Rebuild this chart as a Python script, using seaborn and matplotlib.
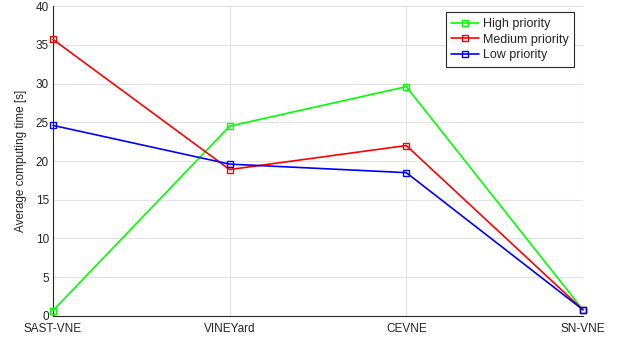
import matplotlib
matplotlib.use("Agg")
import matplotlib.pyplot as plt
import seaborn as sns
import pandas as pd

algorithms = ["SAST-VNE", "VINEYard", "CEVNE", "SN-VNE"]
high_priority = [0.7, 24.5, 29.6, 0.8]
medium_priority = [35.7, 18.9, 22.0, 0.8]
low_priority = [24.6, 19.6, 18.5, 0.8]
series_names = ["High priority", "Medium priority", "Low priority"]
colors = ["#00ff00", "#ff0000", "#0000ff"]

rows = []
for name, vals in zip(series_names, [high_priority, medium_priority, low_priority]):
    for i, (alg, v) in enumerate(zip(algorithms, vals)):
        rows.append({"pos": i, "algorithm": alg, "time": v, "series": name})
df = pd.DataFrame(rows)

sns.set_style("white")
plt.rcParams["font.family"] = ["Liberation Sans", "DejaVu Sans"]

fig = plt.figure(figsize=(6.22, 3.39), dpi=100)
ax = fig.add_axes([0.0852, 0.068, 0.852, 0.914])

sns.lineplot(data=df, x="pos", y="time", hue="series", hue_order=series_names,
             palette=colors, marker="s", markersize=5, markerfacecolor="none",
             markeredgewidth=1.0, linewidth=1.2, ax=ax, legend=True)
for line, c in zip(ax.lines, colors):
    line.set_markeredgecolor(c)
    line.set_clip_on(False)
    line.set_zorder(3)

ax.set_xlim(0, 3)
ax.set_ylim(0, 40)
ax.set_xticks(range(len(algorithms)))
ax.set_xticklabels(algorithms)
ax.set_yticks(range(0, 41, 5))
ax.set_xlabel("")
ax.set_ylabel("Average computing time [s]", fontsize=8.5, color="#262626",
              labelpad=6)
ax.tick_params(axis="both", direction="in", length=4, labelsize=8.5,
               colors="#262626")
ax.tick_params(axis="x", pad=5)
ax.tick_params(axis="y", pad=3)
ax.grid(True, color="#e3e3e3", linewidth=0.8)
ax.set_axisbelow(True)
for side in ["top", "right"]:
    ax.spines[side].set_visible(False)
for side in ["left", "bottom"]:
    ax.spines[side].set_color("#262626")
    ax.spines[side].set_linewidth(0.8)

handles, labels = ax.get_legend_handles_labels()
for h, c in zip(handles, colors):
    h.set_marker("s")
    h.set_markerfacecolor("none")
    h.set_markeredgecolor(c)
    h.set_markersize(5)
leg = ax.legend(handles, labels, loc="upper right", bbox_to_anchor=(0.995, 1.0),
                fontsize=9, frameon=True, fancybox=False, framealpha=1,
                edgecolor="#262626", handlelength=2.2, borderpad=0.45,
                labelspacing=0.3, handletextpad=0.3)
leg.get_frame().set_linewidth(0.8)
leg.set_zorder(5)

fig.savefig("out.png", dpi=100)
